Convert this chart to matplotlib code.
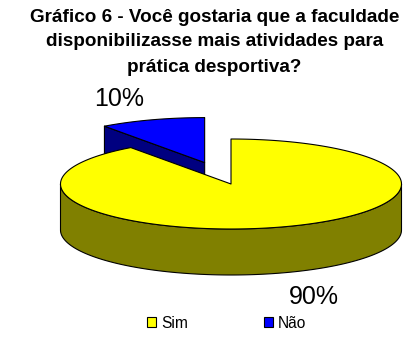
import numpy as np
import matplotlib
matplotlib.use("Agg")
import matplotlib.pyplot as plt
from matplotlib.patches import Polygon, Patch

categories = ["Sim", "Não"]
values = [90, 10]
labels = ["90%", "10%"]
title_lines = ["Gráfico 6 - Você gostaria que a faculdade",
               "disponibilizasse mais atividades para",
               "prática desportiva?"]
top_colors = ["#FFFF00", "#0000FF"]
wall_colors = ["#808000", "#000080"]

W, H = 417, 357
CX, CY, RX, RY, DEPTH = 231, 184, 170.5, 45, 46
EXPLODE = 0.5
px = 72 / 100

fig = plt.figure(figsize=(W / 100, H / 100), dpi=100, facecolor="white")
ax = fig.add_axes([0, 0, 1, 1])
ax.set_xlim(0, W)
ax.set_ylim(H, 0)
ax.axis("off")


def rim(a0, a1, cx, cy, n=240):
    t = np.radians(np.linspace(a0, a1, n))
    return np.column_stack([cx + RX * np.sin(t), cy - RY * np.cos(t)])


fractions = np.array(values, dtype=float) / sum(values)
edges = np.concatenate([[0], np.cumsum(fractions) * 360])
edge_kw = dict(edgecolor="black", linewidth=0.8, joinstyle="round")

# exploded slice first (it sits behind the large slice)
a0, a1 = edges[1], edges[2]
mid = np.radians((a0 + a1) / 2)
bx, by = CX + EXPLODE * RX * np.sin(mid), CY - EXPLODE * RY * np.cos(mid)
p0 = rim(a0, a0, bx, by, 1)[0]
apex = np.array([bx, by])
drop = np.array([0, DEPTH])
ax.add_patch(Polygon([p0, apex, apex + drop, p0 + drop], facecolor=wall_colors[1], zorder=1, **edge_kw))
ax.add_patch(Polygon(np.vstack([[apex], rim(a0, a1, bx, by)]), facecolor=top_colors[1], zorder=2, **edge_kw))

# large slice: wall along the front rim, then the top face
front = rim(90, 270, CX, CY)
ax.add_patch(Polygon(np.vstack([front, (front + drop)[::-1]]), facecolor=wall_colors[0], zorder=3, **edge_kw))
ax.add_patch(Polygon(np.vstack([[[CX, CY]], rim(edges[0], edges[1], CX, CY)]),
                     facecolor=top_colors[0], zorder=4, **edge_kw))

# percentage labels
ax.text(314, 297, labels[0], fontsize=25 * px, family="Liberation Sans", ha="center", va="center", zorder=5)
ax.text(119.5, 99.5, labels[1], fontsize=25 * px, family="Liberation Sans", ha="center", va="center", zorder=5)

# title
for line, y in zip(title_lines, [17, 42, 67]):
    ax.text(214.5, y, line, fontsize=18.9 * px, fontweight="bold", family="Liberation Sans",
            ha="center", va="center", zorder=5)

# legend
handles = [Patch(facecolor=c, edgecolor="black", linewidth=0.8, label=n) for c, n in zip(top_colors, categories)]
ax.legend(handles=handles, ncol=2, frameon=False, loc="center left", bbox_to_anchor=(147 / W, 1 - 323 / H),
          bbox_transform=fig.transFigure, prop={"family": "Liberation Sans", "size": 15.5 * px},
          handlelength=0.58, handleheight=0.58, handletextpad=0.32, columnspacing=4.9,
          borderpad=0, borderaxespad=0)

fig.savefig("out.png", dpi=100, facecolor="white")
